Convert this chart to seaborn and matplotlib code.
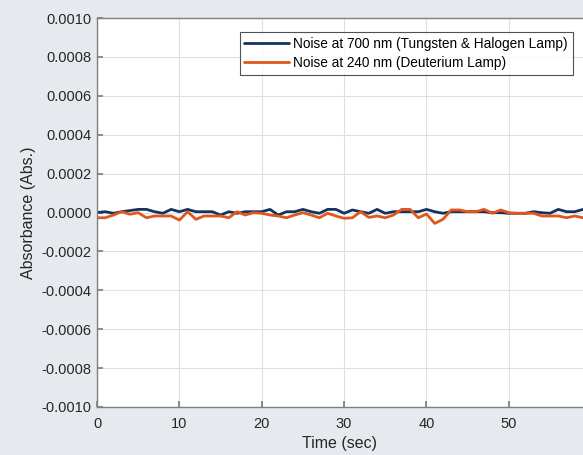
import numpy as np
import pandas as pd
import matplotlib
matplotlib.use("Agg")
import matplotlib.pyplot as plt
import seaborn as sns

time_sec = list(range(60))
noise_700 = [0.0e-5, 0.4e-5, -0.4e-5, 0.4e-5, 1.0e-5, 1.6e-5, 1.6e-5, 0.4e-5, -0.4e-5, 1.6e-5,
             0.4e-5, 1.6e-5, 0.4e-5, 0.4e-5, 0.4e-5, -1.3e-5, 0.4e-5, -0.4e-5, 0.4e-5, 0.4e-5,
             0.4e-5, 1.6e-5, -1.3e-5, 0.4e-5, 0.4e-5, 1.6e-5, 0.4e-5, -0.4e-5, 1.6e-5, 1.6e-5,
             -0.4e-5, 1.3e-5, 0.4e-5, -0.4e-5, 1.6e-5, -0.4e-5, 0.4e-5, 0.4e-5, 0.4e-5, 0.4e-5,
             1.6e-5, 0.4e-5, -0.4e-5, 0.4e-5, 0.4e-5, 0.4e-5, 0.4e-5, 0.4e-5, -0.1e-5, -0.1e-5,
             -0.4e-5, -0.4e-5, -0.4e-5, 0.4e-5, -0.1e-5, -0.4e-5, 1.6e-5, 0.4e-5, 0.4e-5, 1.6e-5]
noise_240 = [-2.7e-5, -2.7e-5, -1.3e-5, 0.4e-5, -0.9e-5, -0.1e-5, -2.7e-5, -1.8e-5, -1.8e-5, -1.8e-5,
             -3.9e-5, 0.4e-5, -3.5e-5, -1.8e-5, -1.8e-5, -1.8e-5, -2.7e-5, 0.4e-5, -1.3e-5, -0.1e-5,
             -0.4e-5, -1.3e-5, -1.8e-5, -2.7e-5, -1.3e-5, -0.1e-5, -1.3e-5, -2.7e-5, -0.4e-5, -1.8e-5,
             -3.0e-5, -2.7e-5, 0.4e-5, -2.5e-5, -1.8e-5, -2.7e-5, -1.3e-5, 1.6e-5, 1.6e-5, -2.7e-5,
             -0.8e-5, -5.6e-5, -3.5e-5, 1.3e-5, 1.3e-5, 0.4e-5, 0.4e-5, 1.6e-5, -0.4e-5, 1.3e-5,
             -0.1e-5, -0.4e-5, -0.4e-5, -0.4e-5, -1.8e-5, -1.8e-5, -1.8e-5, -2.7e-5, -1.8e-5, -2.7e-5]
labels = ["Noise at 700 nm (Tungsten & Halogen Lamp)", "Noise at 240 nm (Deuterium Lamp)"]
y_ticks = [-0.0010, -0.0008, -0.0006, -0.0004, -0.0002, 0.0, 0.0002, 0.0004, 0.0006, 0.0008, 0.0010]
x_ticks = [0, 10, 20, 30, 40, 50]

df = pd.DataFrame({
    "Time": time_sec * 2,
    "Abs": noise_700 + noise_240,
    "Series": [labels[0]] * len(time_sec) + [labels[1]] * len(time_sec),
})

sns.set_theme(style="white")
plt.rcParams["font.family"] = ["Liberation Sans", "DejaVu Sans"]
plt.rcParams["axes.unicode_minus"] = False

fig = plt.figure(figsize=(5.83, 4.55), dpi=100, facecolor="#E6E9EE")
ax = fig.add_axes([97 / 583, 48 / 455, 1 - 97 / 583, (407 - 18) / 455])
ax.set_facecolor("white")

sns.lineplot(data=df, x="Time", y="Abs", hue="Series", ax=ax,
             palette={labels[0]: "#14335E", labels[1]: "#E0561C"}, linewidth=2.0)

ax.set_xlim(0, 59)
ax.set_ylim(-0.0010, 0.0010)
ax.set_xticks(x_ticks)
ax.set_yticks(y_ticks)
ax.set_yticklabels([f"{v:.4f}" for v in y_ticks])
ax.grid(True, color="#E0E0E0", linewidth=0.8)
ax.set_axisbelow(True)
for s in ["left", "bottom", "top"]:
    ax.spines[s].set_color("#7F7F7F")
    ax.spines[s].set_linewidth(1.0)
ax.spines["right"].set_visible(False)
ax.tick_params(axis="both", which="both", direction="in", length=4, color="#7F7F7F",
               labelsize=10.5, labelcolor="#262626", left=True, bottom=True)
ax.tick_params(axis="x", pad=7.5)
ax.tick_params(axis="y", pad=4)
ax.set_xlabel("Time (sec)", fontsize=11.5, color="#262626", labelpad=3)
ax.set_ylabel("Absorbance (Abs.)", fontsize=11.5, color="#262626", labelpad=4)

leg = ax.legend(loc="upper right", bbox_to_anchor=(0.979, 0.964), frameon=True, fancybox=False,
                fontsize=9.8, handlelength=3.3, borderpad=0.35, labelspacing=0.4,
                handletextpad=0.3, borderaxespad=0)
leg.get_frame().set_edgecolor("#262626")
leg.get_frame().set_linewidth(0.8)
for t in leg.get_texts():
    t.set_color("#000000")

fig.savefig("out.png", dpi=100, facecolor=fig.get_facecolor())
